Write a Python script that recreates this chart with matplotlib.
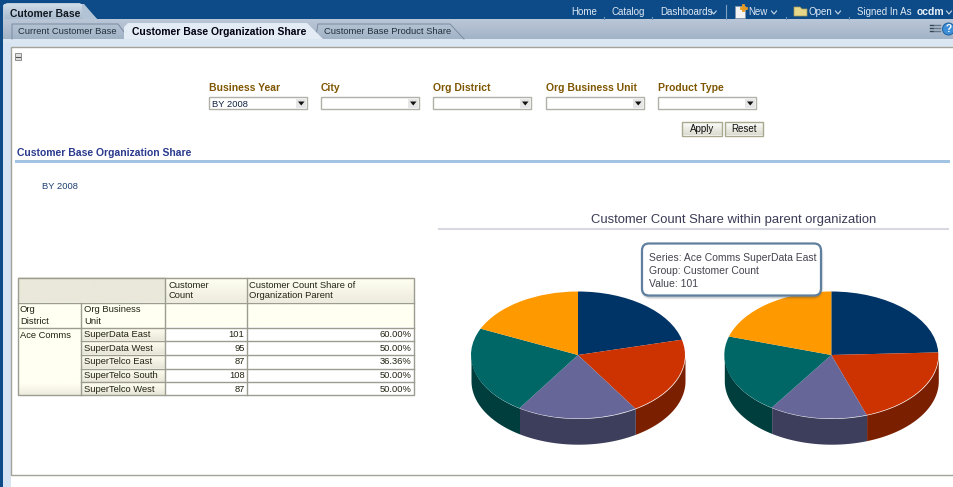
import matplotlib
matplotlib.use("Agg")
import matplotlib.pyplot as plt
import numpy as np
from matplotlib.colors import LinearSegmentedColormap
from matplotlib.patches import Rectangle, FancyBboxPatch, Polygon, Circle

# ---- data ----
district = "Ace Comms"
units = ["SuperData East", "SuperData West", "SuperTelco East", "SuperTelco South", "SuperTelco West"]
counts = [101, 95, 87, 108, 87]
shares = [60.00, 50.00, 36.36, 50.00, 50.00]
pie_colors = ["#003366", "#CC3300", "#666699", "#006666", "#FF9900"]
side_colors = ["#001f3f", "#7a1f00", "#3d3d5c", "#003d3d", "#995c00"]
chart_title = "Customer Count Share within parent organization"
tabs = ["Current Customer Base", "Customer Base Organization Share", "Customer Base Product Share"]
menu = ["Home", "Catalog", "Dashboards", "New", "Open", "Signed In As"]
prompts = ["Business Year", "City", "Org District", "Org Business Unit", "Product Type"]
tip_lines = ["Series: Ace Comms SuperData East", "Group: Customer Count", "Value: 101"]

W, H = 954, 487
FONT = "Liberation Sans"
REG = 9.4
plt.rcParams["font.family"] = [FONT, "DejaVu Sans"]
fig = plt.figure(figsize=(W / 100, H / 100), dpi=100, facecolor="white")
ax = fig.add_axes([0, 0, 1, 1])
ax.set_xlim(0, W); ax.set_ylim(H, 0); ax.axis("off")


def px(s):
    return s * 0.72


def T(x, y, s, size=REG, color="#222222", weight="normal", ha="left", fam=None, z=5):
    ax.text(x, y + 0.5, s, fontsize=px(size), color=color, weight=weight, ha=ha, va="center", zorder=z,
            family=fam or FONT)


def R(x0, y0, x1, y1, fc="none", ec="none", lw=0.8, z=1):
    ax.add_patch(Rectangle((x0, y0), x1 - x0, y1 - y0, facecolor=fc, edgecolor=ec, linewidth=lw, zorder=z))


def G(x0, y0, x1, y1, c0, c1, z=1):
    cm = LinearSegmentedColormap.from_list("g", [c0, c1])
    ax.imshow(np.linspace(0, 1, 32)[:, None], cmap=cm, extent=(x0, x1, y1, y0), aspect="auto", zorder=z,
              interpolation="bilinear")


# ---- page chrome ----
R(0, 0, W, H, fc="#ffffff", z=0)
R(0, 0, W, 19, fc="#0c4b88", z=1)
G(0, 19, W, 39, "#bac7d7", "#a3b3c7", z=1)
R(0, 39, W, 47, fc="#dbe6f3", z=1)
R(0, 19, 3, H, fc="#0c4b88", z=2)
R(3, 43, 11, H, fc="#d5e3f3", z=2)
R(11, 47, W + 2, 475, fc="white", ec="#a3a398", lw=1, z=2)

# top tab
ax.add_patch(Polygon([(3, 19), (3, 5), (7, 3), (80, 3), (97, 19)], closed=True, fc="#bccbdc", ec="none", zorder=3))
G(4, 4, 82, 19, "#cfdbe8", "#a9bccf", z=3)
ax.add_patch(Polygon([(82, 4), (84, 4), (97, 19), (82, 19)], closed=True, fc="#b2c3d5", ec="none", zorder=3))
T(10, 13.5, "Cutomer Base", 10.4, "#101820", "bold")
T(18, 31.5, tabs[0], REG, "#20303c")
T(132, 31.5, tabs[1], 10.4, "#000010", "bold")
T(324, 31.5, tabs[2], REG, "#20303c")
# inactive tab outlines
ax.plot([12, 12, 118, 124], [39, 24, 24, 32], color="#7d8ba0", lw=0.7, zorder=3)
ax.plot([316, 318, 450, 464], [35, 24, 24, 39], color="#7d8ba0", lw=0.7, zorder=3)
# active tab
ax.add_patch(Polygon([(124, 39), (124, 27), (128, 23), (307, 23), (323, 39)], closed=True, fc="#e3ebf5", ec="none", zorder=3))
R(124, 39, 323, 43, fc="#dbe6f3", z=3)

# top menu
mx = [571, 612, 660, 748.5, 808.5, 857]
for x, s in zip(mx, menu):
    T(x, 11.5, s, 9.8, "#dfe9f4")
T(917, 11.5, "ocdm", 10.4, "#eaf1f8", "bold")
for cx in [713.7, 774, 838, 949]:
    ax.plot([cx - 2.5, cx, cx + 2.5], [11, 14, 11], color="#c9d7e6", lw=0.8, zorder=5)
ax.plot([726.5, 726.5], [5, 19], color="#7f9fc0", lw=0.8, zorder=5)
for xx in [604, 652, 786, 849]:
    ax.plot([xx, xx], [17, 19], color="#6c92b8", lw=0.8, zorder=5)
R(735, 6, 745, 18, fc="#f4f4f4", ec="#8899aa", lw=0.5, z=4)
ax.plot([741, 746], [7.5, 7.5], color="#e89a20", lw=2, zorder=5)
ax.plot([743.5, 743.5], [5, 10], color="#e89a20", lw=2, zorder=5)
ax.add_patch(Polygon([(794, 7), (800, 7), (802, 9), (807, 9), (807, 16), (794, 16)], closed=True, fc="#e7d78a", ec="#a59a55", lw=0.5, zorder=5))

# right toolbar icons
for yy in [25, 28, 31]:
    ax.plot([930, 933], [yy, yy], color="#334455", lw=1, zorder=5)
    ax.plot([934, 940], [yy, yy], color="#667788", lw=1, zorder=5)
ax.add_patch(Circle((948.5, 29), 6, fc="#3f8fd8", ec="#1e5f9f", lw=0.7, zorder=5))
T(948.5, 28.5, "?", 10, "white", "bold", ha="center", z=6)

# collapse box
R(15, 53, 21.5, 60, fc="#dedede", ec="#8f8f8f", lw=0.7, z=4)
ax.plot([16.5, 20], [56.5, 56.5], color="#555555", lw=0.8, zorder=5)

# prompts
px0 = [209, 321, 433, 546, 658]
for i, (x, s) in enumerate(zip(px0, prompts)):
    T(x, 87.5, s, 10.4, "#7f5600", "bold")
    R(x + .5, 97, x + 98, 109, fc="white", ec="#b0b0a8", lw=1, z=3)
    R(x + 87.5, 99, x + 97, 108, fc="#e6e6e6", z=4)
    ax.add_patch(Polygon([(x + 89, 101.5), (x + 95.5, 101.5), (x + 92.25, 105.5)], closed=True, fc="#111111", ec="none", zorder=5))
T(212, 104, "BY 2008", REG, "#112244")

for x0, x1, s in [(682.5, 722, "Apply"), (725, 763.5, "Reset")]:
    G(x0, 122, x1, 135.5, "#ffffff", "#dcdcd0", z=3)
    R(x0, 122, x1, 135.5, ec="#aaa98f", lw=1, z=4)
    T((x0 + x1) / 2, 129, s, 9.8, "#111111", ha="center")

# section header
T(17, 152, "Customer Base Organization Share", 10.4, "#2a3a8c", "bold")
R(15, 160, 950, 162.5, fc="#a3c3e2", z=3)
T(42, 186, "BY 2008", REG, "#1f3f6f")

# ---- table ----
cols = [18, 81, 165.5, 247.5, 414.5]
rows = [277.5, 302.5, 327.5, 341, 354.5, 368.5, 382, 395]
grid = "#9c9c90"
G(cols[0], rows[0], cols[2], rows[1], "#e9e8da", "#e9e8da", z=2)
for j in (2, 3):
    G(cols[j], rows[0], cols[j + 1], rows[1], "#fffff2", "#eeecdf", z=2)
    G(cols[j], rows[1], cols[j + 1], rows[2], "#fffff2", "#fffff2", z=2)
G(cols[0], rows[1], cols[2], rows[2], "#fffff2", "#fffff2", z=2)
G(cols[0], rows[2], cols[1], rows[-1], "#fffff2", "#fffff2", z=2)
G(cols[0], rows[-1] - 12, cols[1], rows[-1], "#fffff2", "#eeecdf", z=2)
for i in range(5):
    G(cols[1], rows[2 + i], cols[2], rows[3 + i], "#fffff2", "#e8e6d8", z=2)
lw = 1.0
R(cols[0], rows[0], cols[-1], rows[-1], ec=grid, lw=lw, z=4)
for y in rows[1:3]:
    ax.plot([cols[0], cols[-1]], [y, y], color=grid, lw=lw, zorder=4)
for y in rows[3:-1]:
    ax.plot([cols[1], cols[-1]], [y, y], color=grid, lw=lw, zorder=4)
ax.plot([cols[1]] * 2, [rows[1], rows[-1]], color=grid, lw=lw, zorder=4)
for x in cols[2:4]:
    ax.plot([x, x], [rows[0], rows[-1]], color=grid, lw=lw, zorder=4)
txt = "#222211"
T(cols[2] + 3, 284.5, "Customer", REG, txt)
T(cols[2] + 3, 295.5, "Count", REG, txt)
T(cols[3] + 2, 284.5, "Customer Count Share of", REG, txt)
T(cols[3] + 2, 295.5, "Organization Parent", REG, txt)
T(cols[0] + 2, 309.5, "Org", REG, txt)
T(cols[0] + 2, 320.5, "District", REG, txt)
T(cols[1] + 3, 309.5, "Org Business", REG, txt)
T(cols[1] + 3, 320.5, "Unit", REG, txt)
T(cols[0] + 2, 334.5, district, REG, txt)
for i, u in enumerate(units):
    y = (rows[2 + i] + rows[3 + i]) / 2
    T(cols[1] + 3, y, u, REG, txt)
    T(cols[3] - 3, y, f"{counts[i]}", REG, txt, ha="right")
    T(cols[4] - 3, y, f"{shares[i]:.2f}%", REG, txt, ha="right")

# ---- chart title ----
T(733.5, 219.5, chart_title, 13, "#3b3b55", ha="center", fam="Liberation Sans")
ax.plot([439, 948], [229, 229], color="#d8d8e0", lw=1.5, zorder=3)


# ---- pies ----
def draw_pie(values, cx, cy, rx=107.0, ry=63.5, depth=25.7):
    xlim = 1.25
    ylo, yhi = -1.25 - depth / ry, 1.25
    w = 2 * xlim * rx
    h = (yhi - ylo) * ry
    left = cx - xlim * rx
    top = cy - yhi * ry
    a = fig.add_axes([left / W, 1 - (top + h) / H, w / W, h / H], zorder=3)
    a.pie(values, colors=pie_colors, startangle=90, counterclock=False, wedgeprops=dict(linewidth=0))
    a.set_aspect("auto")
    a.set_xlim(-xlim, xlim); a.set_ylim(ylo, yhi)
    a.patch.set_alpha(0)
    edges = np.cumsum([0] + list(values)) / sum(values) * 360
    d = depth / ry
    for i in range(len(values)):
        lo, hi = max(edges[i], 90), min(edges[i + 1], 270)
        if hi <= lo:
            continue
        t = np.radians(np.linspace(lo, hi, 80))
        a.fill_between(np.sin(t), np.cos(t), np.cos(t) - d, color=side_colors[i], lw=0, zorder=0)


draw_pie(counts, 578.0, 355.0)
draw_pie(shares, 831.3, 355.0)

# ---- tooltip ----
ax2 = fig.add_axes([0, 0, 1, 1], zorder=6)
ax2.set_xlim(0, W); ax2.set_ylim(H, 0); ax2.axis("off"); ax2.patch.set_alpha(0)
for k, al in [(5, .06), (4, .08), (3, .10), (2, .12)]:
    ax2.add_patch(FancyBboxPatch((643 + 1, 245 + 2), 176, 49, boxstyle="round,pad=0,rounding_size=7",
                                 fc="#334455", ec="#334455", lw=k, alpha=al))
ax2.add_patch(FancyBboxPatch((642, 243.5), 179, 52, boxstyle="round,pad=0,rounding_size=7",
                             fc="white", ec="#5f7f9f", lw=1.6))
for y, s in zip([257.5, 270.5, 283.5], tip_lines):
    ax2.text(649.5, y + 0.5, s, fontsize=px(10.4), color="#444450", va="center", family="Liberation Sans")

fig.savefig("out.png", dpi=100)
